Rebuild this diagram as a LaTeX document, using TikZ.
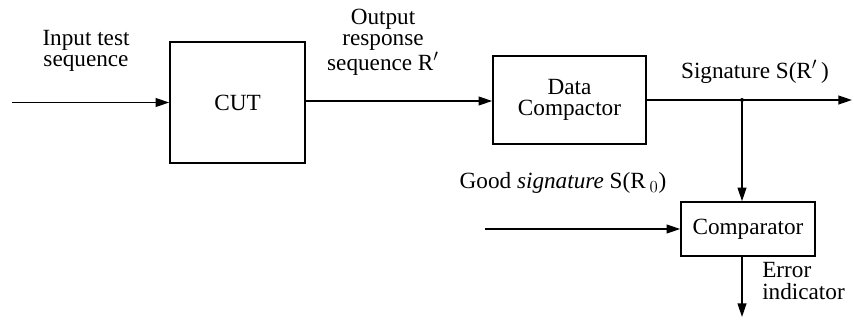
\documentclass[tikz,border=0pt]{standalone}
\usepackage{fontspec}
\setmainfont{Liberation Serif}
\usetikzlibrary{arrows.meta}

\begin{document}
\begin{tikzpicture}[x=0.025cm,y=-0.025cm]
        % Define styles
        \tikzset{
            every node/.style={font=\fontsize{16.5}{15}\selectfont},
            block/.style={rectangle, draw, line width=1.1pt, inner sep=0pt, align=center},
            label/.style={align=center, inner sep=0pt},
            arrow/.style={-{Triangle[length=3.4mm,width=2.2mm]}, line width=1.1pt},
        }
        \useasboundingbox (0,0) rectangle (854,322);

        % Blocks
        \node[block, minimum width=3.375cm, minimum height=3.025cm] (cut) at (237.5,102.5) {CUT};
        \node[block, minimum width=3.825cm, minimum height=2.2cm] (compactor) at (569.5,100) {Data\\Compactor};
        \node[block, minimum width=3.35cm, minimum height=1.35cm] (comparator) at (748,229) {Comparator};

        % Free ends
        \coordinate (input_start) at (12,102.5);
        \coordinate (output_end) at (852,100);
        \coordinate (junction) at (742,100);
        \coordinate (good_start) at (485,229);
        \coordinate (error_end) at (742,317);

        % Labels
        \node[label] (input_label) at (86,51) {Input test\\sequence};
        \node[label] (response_label) at (383,42) {Output\\response\\sequence R$'$};
        \node[label] (signature_label) at (755,72) {Signature S(R$'$\,)};
        \node[label] (good_label) at (563,183) {Good \textit{signature} S(R\,$_0$)};
        \node[label, align=left, anchor=west] (error_label) at (762,281) {Error\\indicator};

        % Arrows
        \draw[arrow] (input_start) -- (cut.west |- input_start);
        \draw[arrow] (cut.east |- 0,101) -- (compactor.west |- 0,101);
        \draw[arrow] (compactor.east |- junction) -- (output_end);
        \draw[arrow] (junction) -- (junction |- comparator.north);
        \draw[arrow] (good_start) -- (comparator.west |- good_start);
        \draw[arrow] (junction |- comparator.south) -- (error_end);
        \fill (junction) circle (2);
    \end{tikzpicture}
\end{document}
